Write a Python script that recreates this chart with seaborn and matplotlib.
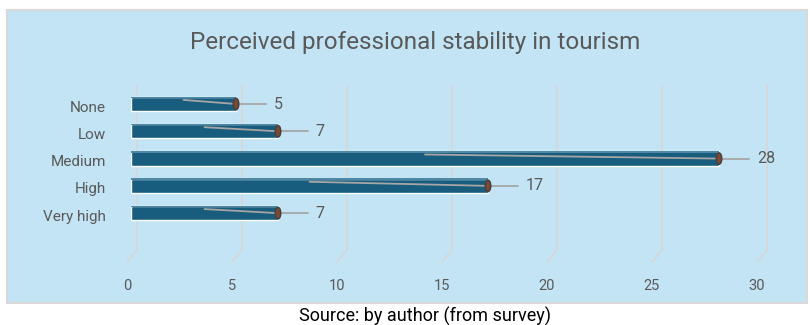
import matplotlib
matplotlib.use("Agg")
import matplotlib.pyplot as plt
import matplotlib.transforms as mtransforms
from matplotlib.patches import Rectangle, Ellipse
import seaborn as sns
import pandas as pd

# Survey responses
categories = ["None", "Low", "Medium", "High", "Very high"]
counts = [5, 7, 28, 17, 7]
x_ticks = [0, 5, 10, 15, 20, 25, 30]

title = "Perceived professional stability in tourism"
source = "Source: by author (from survey)"

BG = "#C3E4F4"
BAR = "#185D7E"
BAR_TOP = "#4E88A4"
GRID = "#D6D6D6"
TEXT = "#595959"
CAP = "#C4561A"

sns.set_theme(style="white")
plt.rcParams["font.family"] = ["Roboto", "DejaVu Sans"]

df = pd.DataFrame({"level": categories, "count": counts})

fig = plt.figure(figsize=(8.1, 3.25), dpi=100)
fig.patch.set_facecolor("white")

# Chart area panel
fig.patches.append(Rectangle((7 / 810, 1 - 303 / 325), 800 / 810, 293 / 325,
                             transform=fig.transFigure, facecolor=BG,
                             edgecolor="#D9D9D9", linewidth=1.5, zorder=-5))

ax = fig.add_axes([131 / 810, 1 - 250 / 325, 630 / 810, 164 / 325])
ax.set_facecolor("none")
ax.set_zorder(2)

sns.barplot(data=df, y="level", x="count", order=categories, orient="h",
            color=BAR, width=0.52, saturation=1, ax=ax, zorder=3)

ax.set_xlim(0, 30)
ax.set_ylim(5.35, -0.66)

# lighter top face of each bar
ypos = list(range(len(categories)))
ax.barh([y - 0.245 for y in ypos], counts, height=0.06, color=BAR_TOP,
        zorder=4, linewidth=0)

# back-wall gridlines, shifted right, with slanted floor lines
shift = mtransforms.ScaledTranslation(6 / 100, 0, fig.dpi_scale_trans)
floor_drop = mtransforms.ScaledTranslation(-4 / 100, -12 / 100, fig.dpi_scale_trans)
blend = mtransforms.blended_transform_factory(ax.transData, ax.transAxes)
for v in x_ticks:
    ax.plot([v, v], [0, 1], color=GRID, lw=1.2, transform=blend + shift,
            zorder=1, clip_on=False)
    ax.annotate("", xy=(v, 0), xycoords=blend + floor_drop,
                xytext=(v, 0), textcoords=blend + shift,
                arrowprops=dict(arrowstyle="-", color=GRID, lw=1.2,
                                shrinkA=0, shrinkB=0), zorder=1)

# leader lines and data labels
for y, v in zip(ypos, counts):
    ax.plot([v / 2, v], [y - 0.15, y], color="#A6A6A6", lw=1.3, zorder=5)
    ax.add_patch(Ellipse((v, y), 0.26, 0.42, facecolor="#7A4A33",
                         edgecolor="#4A4040", lw=1.1, zorder=6))
    ax.plot([v + 0.12, v + 1.45], [y, y], color="#A6A6A6", lw=1.3, zorder=5)
    ax.text(v + 1.8, y, str(v), va="center", ha="left", fontsize=11.5,
            color=TEXT, zorder=7)

ax.set_xticks(x_ticks)
ax.set_xticklabels([str(t) for t in x_ticks])
ax.tick_params(axis="x", length=0, pad=21, labelsize=10.5, labelcolor=TEXT)
ax.tick_params(axis="y", length=0, pad=18, labelsize=11, labelcolor=TEXT)
lbl_shift = mtransforms.ScaledTranslation(-4 / 100, 0, fig.dpi_scale_trans)
for lab in ax.get_xticklabels():
    lab.set_transform(lab.get_transform() + lbl_shift)
ylbl_shift = mtransforms.ScaledTranslation(0, -2 / 100, fig.dpi_scale_trans)
for lab in ax.get_yticklabels():
    lab.set_transform(lab.get_transform() + ylbl_shift)
ax.set_xlabel("")
ax.set_ylabel("")
for s in ax.spines.values():
    s.set_visible(False)
ax.grid(False)

fig.text(415 / 810, 1 - 42 / 325, title, ha="center", va="center",
         fontsize=17.5, color=TEXT)
fig.text(425 / 810, 1 - 316 / 325, source, ha="center", va="center",
         fontsize=13, color="black")

fig.savefig("out.png", dpi=100, facecolor="white")
